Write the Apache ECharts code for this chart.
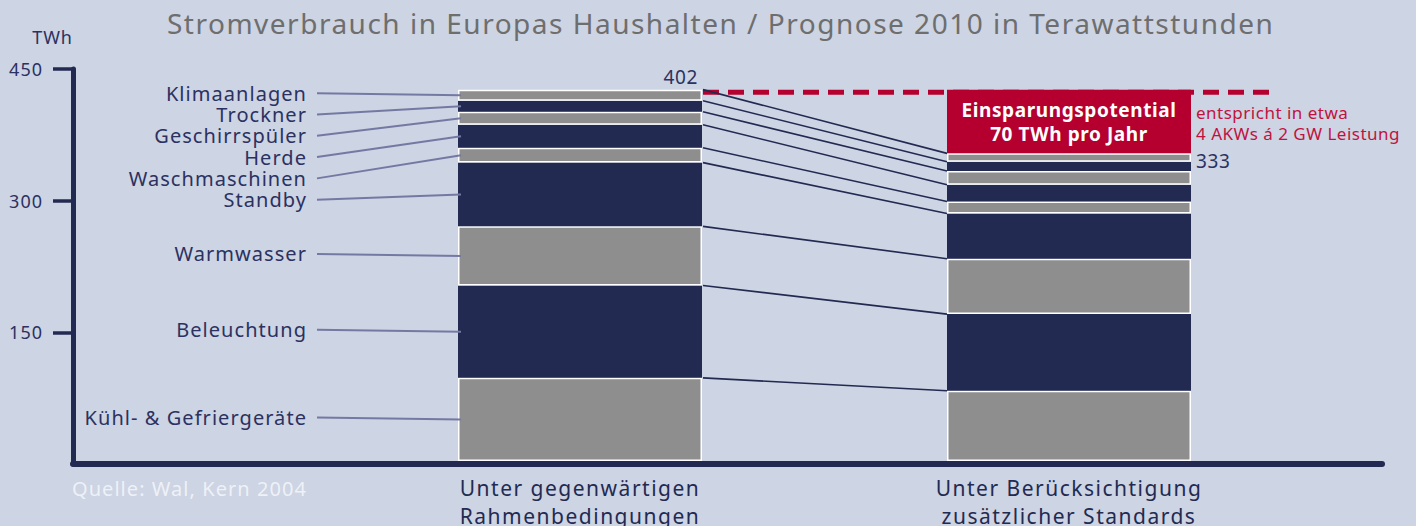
<!DOCTYPE html>
<html>
<head>
<meta charset="utf-8">
<script src="https://cdn.jsdelivr.net/npm/echarts@6/dist/echarts.min.js"></script>
<style>
  html, body { margin: 0; padding: 0; background: #cdd4e3; }
  #chart { width: 1416px; height: 526px; }
  /* Sperrung wie im Original (SVG-Renderer) */
  #chart text[style*="28px"] { letter-spacing: 1.5px; }
  #chart text[style*="21px"] { letter-spacing: 1.5px; }
  #chart text[style*="20px"] { letter-spacing: 1.05px; }
  #chart text[style*="19px"] { letter-spacing: 0.6px; }
  #chart text[style*="18px"] { letter-spacing: 1px; }
  #chart text[style*="17px"] { letter-spacing: 0.5px; }
</style>
</head>
<body>
<div id="chart"></div>
<script>
  // Verbraucher, von unten nach oben gestapelt
  const categories = ['Kühl- & Gefriergeräte', 'Beleuchtung', 'Warmwasser', 'Standby', 'Waschmaschinen',
    'Herde', 'Geschirrspüler', 'Trockner', 'Klimaanlagen'];
  const scenarios = ['Unter gegenwärtigen\nRahmenbedingungen', 'Unter Berücksichtigung\nzusätzlicher Standards'];
  // TWh je Verbraucher
  const heute = [90, 100, 64, 69, 16, 25, 14, 12, 12];
  const standards = [76, 83, 60, 49, 13, 18, 15, 10, 9];
  const totals = [402, 333];
  const yTicks = [150, 300, 450];
  const savingsText = 'Einsparungspotential\n70 TWh pro Jahr';
  const noteText = 'entspricht in etwa\n4 AKWs á 2 GW Leistung';

  const NAVY = '#222a52';
  const GRAY = '#8e8e8e';
  const RED = '#b5002f';
  const FONT = 'Noto Sans';
  const BAR_W = 244;

  // kumulierte Grenzen
  function cum(arr) {
    let s = 0;
    return arr.map(v => (s += v));
  }
  const cumHeute = cum(heute);
  const cumStd = cum(standards);

  let myChart = echarts.init(document.getElementById('chart'), null, {renderer: 'svg'});

  let barSeries = categories.map(function (name, i) {
    return {
      name: name,
      type: 'bar',
      stack: 'total',
      xAxisIndex: 1,
      yAxisIndex: 1,
      barWidth: BAR_W,
      data: [heute[i], standards[i]],
      itemStyle: i % 2 === 0
        ? {color: GRAY, borderColor: '#ffffff', borderWidth: 1.5}
        : {color: NAVY, borderWidth: 0}
    };
  });

  barSeries.push({
    name: 'Einsparung',
    type: 'bar',
    stack: 'total',
    xAxisIndex: 1,
    yAxisIndex: 1,
    barWidth: BAR_W,
    data: ['-', totals[0] - totals[1]],
    itemStyle: {color: RED},
    label: {
      show: true,
      position: 'inside',
      formatter: savingsText,
      color: '#ffffff',
      fontFamily: FONT,
      fontWeight: 'bold',
      fontSize: 19,
      lineHeight: 24
    }
  });

  // gestrichelte Linie und Verbindungslinien zwischen den Saeulen
  let underlay = {
    type: 'custom',
    xAxisIndex: 1,
    yAxisIndex: 1,
    z: 1,
    silent: true,
    data: [[0, 0]],
    renderItem: function (params, api) {
      let half = BAR_W / 2;
      let x0 = api.coord([0, 0])[0] + half + 1;
      let x1 = api.coord([1, 0])[0] - half;
      let children = [];
      let yTop = api.coord([0, totals[0]])[1];
      children.push({
        type: 'line',
        shape: {x1: x0, y1: yTop + 2.5, x2: x1 + BAR_W + 87, y2: yTop + 2.5},
        style: {stroke: RED, lineWidth: 5, lineDash: [16, 9]}
      });
      for (let i = 0; i < categories.length; i++) {
        let ya = api.coord([0, cumHeute[i]])[1];
        let yb = api.coord([1, cumStd[i]])[1];
        children.push({
          type: 'line',
          shape: {x1: x0, y1: ya, x2: x1, y2: yb},
          style: {stroke: NAVY, lineWidth: 1.6}
        });
      }
      return {type: 'group', children: children};
    }
  };

  // Beschriftungen mit Fuehrungslinien, Summen, Hinweis
  let overlay = {
    type: 'custom',
    xAxisIndex: 1,
    yAxisIndex: 1,
    z: 10,
    silent: true,
    data: [[0, 0]],
    renderItem: function (params, api) {
      let half = BAR_W / 2;
      let c0 = api.coord([0, 0])[0];
      let c1 = api.coord([1, 0])[0];
      let left = c0 - half;
      let children = [];

      // Label-Positionen von oben nach unten, mit Mindestabstand
      let labelY = [];
      let prev = -Infinity;
      for (let i = categories.length - 1; i >= 0; i--) {
        let lo = i === 0 ? 0 : cumHeute[i - 1];
        let mid = api.coord([0, (lo + cumHeute[i]) / 2])[1];
        let y = Math.max(mid - 2, prev + 21.3);
        labelY[i] = {y: y, mid: mid};
        prev = y;
      }
      for (let i = 0; i < categories.length; i++) {
        children.push({
          type: 'line',
          shape: {x1: left - 141, y1: labelY[i].y, x2: left + 3, y2: labelY[i].mid},
          style: {stroke: '#7479a3', lineWidth: 2}
        });
        children.push({
          type: 'text',
          x: left - 151,
          y: labelY[i].y,
          style: {
            text: categories[i],
            fill: '#2b3160',
            font: '20px "' + FONT + '"',
            lineHeight: 20,
            textAlign: 'right',
            textVerticalAlign: 'middle'
          }
        });
      }

      let yTop0 = api.coord([0, totals[0]])[1];
      let yTop1 = api.coord([1, totals[1]])[1];
      children.push({
        type: 'text',
        x: c0 + half - 4,
        y: yTop0 - 13,
        style: {text: String(totals[0]), fill: '#2b3160', font: '19px "' + FONT + '"',
          textAlign: 'right', textVerticalAlign: 'middle'}
      });
      children.push({
        type: 'text',
        x: c1 + half + 5,
        y: yTop1 + 8,
        style: {text: String(totals[1]), fill: '#2b3160', font: '19px "' + FONT + '"',
          textAlign: 'left', textVerticalAlign: 'middle'}
      });
      children.push({
        type: 'text',
        x: c1 + half + 5,
        y: yTop0 + 12,
        style: {text: noteText, fill: '#c0123f', font: '17px "' + FONT + '"', lineHeight: 21,
          textAlign: 'left', textVerticalAlign: 'top'}
      });
      return {type: 'group', children: children};
    }
  };

  let option = {
    backgroundColor: '#cdd4e3',
    animation: false,
    title: [{
      text: 'Stromverbrauch in Europas Haushalten / Prognose 2010 in Terawattstunden',
      left: 162,
      top: 4,
      textStyle: {color: '#6e6e6e', fontFamily: FONT, fontWeight: 'normal', fontSize: 28}
    }, {
      text: 'Quelle: Wal, Kern 2004',
      left: 67,
      top: 473,
      textStyle: {color: '#eef1f7', fontFamily: FONT, fontWeight: 'normal', fontSize: 20}
    }],
    grid: [
      {left: 73, right: 34, top: 69, bottom: 62, outerBoundsMode: 'none'},
      {left: 335.5, right: 102.5, top: 73, bottom: 65, outerBoundsMode: 'none'}
    ],
    xAxis: [{
      gridIndex: 0,
      type: 'value',
      min: 0,
      max: 1,
      axisLine: {show: true, onZero: false, lineStyle: {color: NAVY, width: 6}},
      axisTick: {show: false},
      axisLabel: {show: false},
      splitLine: {show: false}
    }, {
      gridIndex: 1,
      type: 'category',
      data: scenarios,
      axisLine: {show: false},
      axisTick: {show: false},
      axisLabel: {
        color: '#222a52',
        fontFamily: FONT,
        fontSize: 21,
        lineHeight: 28,
        margin: 13
      }
    }],
    yAxis: [{
      gridIndex: 0,
      type: 'value',
      min: 0,
      max: 450,
      interval: 150,
      name: 'TWh',
      nameLocation: 'end',
      nameGap: 23,
      nameTextStyle: {color: '#2b3160', fontFamily: FONT, fontSize: 18, align: 'right'},
      axisLine: {show: true, lineStyle: {color: NAVY, width: 5}},
      axisTick: {show: true, inside: false, length: 20, customValues: yTicks, lineStyle: {color: NAVY, width: 3.5}},
      axisLabel: {color: '#2b3160', fontFamily: FONT, fontSize: 18, margin: 30, customValues: yTicks},
      splitLine: {show: false}
    }, {
      gridIndex: 1,
      type: 'value',
      min: 0,
      max: 420,
      show: false
    }],
    series: barSeries.concat([underlay, overlay])
  };
  myChart.setOption(option);
</script>
</body>
</html>
